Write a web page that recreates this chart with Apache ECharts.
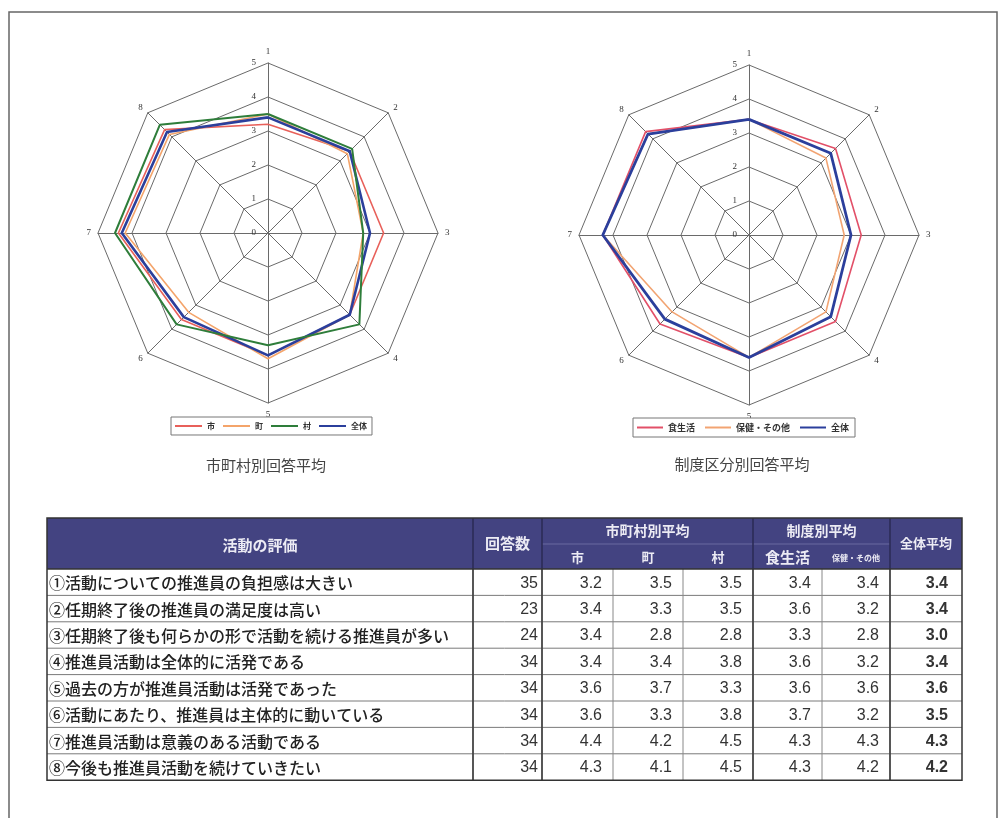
<!DOCTYPE html>
<html><head><meta charset="utf-8">
<script src="https://cdn.jsdelivr.net/npm/echarts@6/dist/echarts.min.js"></script>
<style>html,body{margin:0;padding:0;background:#fff}#c{width:998px;height:818px}</style>
</head><body><div id="c"></div>
<script>
// ---- data ----
const axisNames = ['1','2','3','4','5','6','7','8'];
const leftNames = ['市','町','村','全体'];
const rightNames = ['食生活','保健・その他','全体'];
const shi   = [3.2,3.4,3.4,3.4,3.6,3.6,4.4,4.3];
const machi = [3.5,3.3,2.8,3.4,3.7,3.3,4.2,4.1];
const mura  = [3.5,3.5,2.8,3.8,3.3,3.8,4.5,4.5];
const zentai= [3.4,3.4,3.0,3.4,3.6,3.5,4.3,4.2];
const shoku = [3.4,3.6,3.3,3.6,3.6,3.7,4.3,4.3];
const hoken = [3.4,3.2,2.8,3.2,3.6,3.2,4.3,4.2];
const responses = [35,23,24,34,34,34,34,34];
const items = [
 '①活動についての推進員の負担感は大きい',
 '②任期終了後の推進員の満足度は高い',
 '③任期終了後も何らかの形で活動を続ける推進員が多い',
 '④推進員活動は全体的に活発である',
 '⑤過去の方が推進員活動は活発であった',
 '⑥活動にあたり、推進員は主体的に動いている',
 '⑦推進員活動は意義のある活動である',
 '⑧今後も推進員活動を続けていきたい'
];
const chartTitles = ['市町村別回答平均','制度区分別回答平均'];
const headTop = ['活動の評価','回答数','市町村別平均','制度別平均','全体平均'];
const headSub = ['市','町','村','食生活','保健・その他'];

// ---- layout ----
const CJK = '"Noto Sans CJK JP","Noto Sans",sans-serif';
const order = [0,7,6,5,4,3,2,1]; // radar draws counter-clockwise; make it clockwise
const reorder = a => order.map(i => a[i]);
const centers = [[268,233],[749,235]];
const R = 170;

function radarCfg(c){
  return {
    center:c, radius:R, startAngle:90, splitNumber:5, shape:'polygon',
    indicator: order.map(i => ({name: axisNames[i], min:0, max:5})),
    axisName:{color:'#333', fontSize:9, fontFamily:'Liberation Serif'},
    nameGap:7,
    splitLine:{lineStyle:{color:'#6a6a6a', width:1}},
    splitArea:{show:false},
    axisLine:{lineStyle:{color:'#6a6a6a', width:1}},
    axisTick:{show:false}, axisLabel:{show:false}
  };
}
function rs(name, vals, color, w){
  return {name, value: reorder(vals), lineStyle:{color, width:w}, itemStyle:{color}};
}
const leftColors = ['#e8605a','#f4a46a','#2e7d3a','#2b3f9c'];
const rightColors = ['#e25068','#f2a472','#2b3f9c'];

// ---- table graphics ----
const colX = [47,473,542,613,683,753,822,890,962];
const hTop = 518, hMid = 544, hBot = 569, rowH = 26.4;
const g = [];
g.push({type:'rect', shape:{x:9,y:12,width:988,height:830}, style:{fill:'none', stroke:'#666', lineWidth:1.5}, silent:true});
g.push({type:'text', x:266, y:465, style:{text:chartTitles[0], align:'center', verticalAlign:'middle', font:'15px '+CJK, fill:'#444'}});
g.push({type:'text', x:742, y:464, style:{text:chartTitles[1], align:'center', verticalAlign:'middle', font:'15px '+CJK, fill:'#444'}});
const tW = colX[8]-colX[0];
const tBot = hBot + rowH*items.length;
g.push({type:'rect', shape:{x:colX[0], y:hTop, width:tW, height:hBot-hTop}, style:{fill:'#434381'}});
const hf = 'bold 15px '+CJK, hc = '#ecebf4';
function ht(t,x,y,font){ g.push({type:'text', x, y, style:{text:t, align:'center', verticalAlign:'middle', font:font||hf, fill:hc}}); }
ht(headTop[0], (colX[0]+colX[1])/2, (hTop+hBot)/2+2);
ht(headTop[1], (colX[1]+colX[2])/2, (hTop+hBot)/2);
ht(headTop[2], (colX[2]+colX[5])/2, (hTop+hMid)/2, 'bold 14px '+CJK);
ht(headTop[3], (colX[5]+colX[7])/2, (hTop+hMid)/2, 'bold 14px '+CJK);
ht(headTop[4], (colX[7]+colX[8])/2, (hTop+hBot)/2, 'bold 13px '+CJK);
for(let k=0;k<5;k++){
  const f = k===3 ? 'bold 15px '+CJK : (k===4 ? 'bold 8px '+CJK : 'bold 13px '+CJK);
  ht(headSub[k], (colX[k+2]+colX[k+3])/2, (hMid+hBot)/2+1, f);
}
g.push({type:'line', shape:{x1:colX[2],y1:hMid,x2:colX[7],y2:hMid}, style:{stroke:'#6a6aa0', lineWidth:1}});
[1,2,5,7].forEach(i=>g.push({type:'line', shape:{x1:colX[i],y1:hTop,x2:colX[i],y2:hBot}, style:{stroke:'#2a2a55', lineWidth:1.5}}));
const cols = [shi,machi,mura,shoku,hoken,zentai];
for(let r=0;r<items.length;r++){
  const y0 = hBot + r*rowH, yc = y0 + rowH/2 + 1;
  g.push({type:'text', x:colX[0]+2, y:yc, style:{text:items[r], align:'left', verticalAlign:'middle', font:'500 16px '+CJK, fill:'#222'}});
  g.push({type:'text', x:colX[2]-4, y:yc, style:{text:String(responses[r]), align:'right', verticalAlign:'middle', font:'16px "Liberation Sans",Arial', fill:'#333'}});
  cols.forEach((arr,k)=>{
    const bold = k===5;
    g.push({type:'text', x:colX[k+3]-(k===5?14:11), y:yc, style:{text:arr[r].toFixed(1), align:'right', verticalAlign:'middle', font:(bold?'bold ':'')+'16px "Liberation Sans",Arial', fill:'#333'}});
  });
  if(r>0) g.push({type:'line', shape:{x1:colX[0],y1:y0,x2:colX[8],y2:y0}, style:{stroke:'#7a7a7a', lineWidth:1}});
}
for(let i=1;i<8;i++){
  const thick = [1,2,5,7].includes(i);
  g.push({type:'line', shape:{x1:colX[i],y1:hBot,x2:colX[i],y2:tBot}, style:{stroke: thick?'#444':'#888', lineWidth: thick?1.8:1}});
}
g.push({type:'line', shape:{x1:colX[0],y1:hBot,x2:colX[8],y2:hBot}, style:{stroke:'#333', lineWidth:1.5}});
g.push({type:'rect', shape:{x:colX[0],y:hTop,width:tW,height:tBot-hTop}, style:{fill:'none', stroke:'#333', lineWidth:1.5}});

const chart = echarts.init(document.getElementById('c'), null, {renderer:'canvas'});
chart.setOption({
  backgroundColor:'#fff',
  animation:false,
  radar:[radarCfg(centers[0]), radarCfg(centers[1])],
  polar:[{center:centers[0], radius:R},{center:centers[1], radius:R}],
  angleAxis:[0,1].map(i=>({polarIndex:i, show:false, startAngle:90, min:0, max:360})),
  radiusAxis:[0,1].map(i=>({polarIndex:i, type:'value', min:0, max:5, interval:1,
    axisLine:{show:false}, axisTick:{show:false}, splitLine:{show:false},
    axisLabel:{fontSize:9, color:'#333', fontFamily:'Liberation Serif', margin:12}})),
  legend:[
    {data:leftNames, left:171, top:417, itemWidth:27, itemHeight:2, icon:'rect', itemGap:8,
     padding:[5,5,5,4], borderColor:'#777', borderWidth:1, backgroundColor:'#fff',
     textStyle:{fontSize:8, color:'#333', fontWeight:'bold', fontFamily:CJK}},
    {data:rightNames, left:633, top:418, itemWidth:26, itemHeight:2, icon:'rect', itemGap:10,
     padding:[5,6,5,4], borderColor:'#777', borderWidth:1, backgroundColor:'#fff',
     textStyle:{fontSize:9, color:'#333', fontWeight:'bold', fontFamily:CJK}}
  ],
  series:[
    {type:'radar', radarIndex:0, symbol:'none', data:[
      rs(leftNames[0], shi, leftColors[0], 1.6),
      rs(leftNames[1], machi, leftColors[1], 1.6),
      rs(leftNames[3], zentai, leftColors[3], 2.6),
      rs(leftNames[2], mura, leftColors[2], 2)
    ]},
    {type:'radar', radarIndex:1, symbol:'none', data:[
      rs(rightNames[0], shoku, rightColors[0], 1.6),
      rs(rightNames[1], hoken, rightColors[1], 1.6),
      rs(rightNames[2], zentai, rightColors[2], 2.8)
    ]}
  ],
  graphic:g
});
</script></body></html>
